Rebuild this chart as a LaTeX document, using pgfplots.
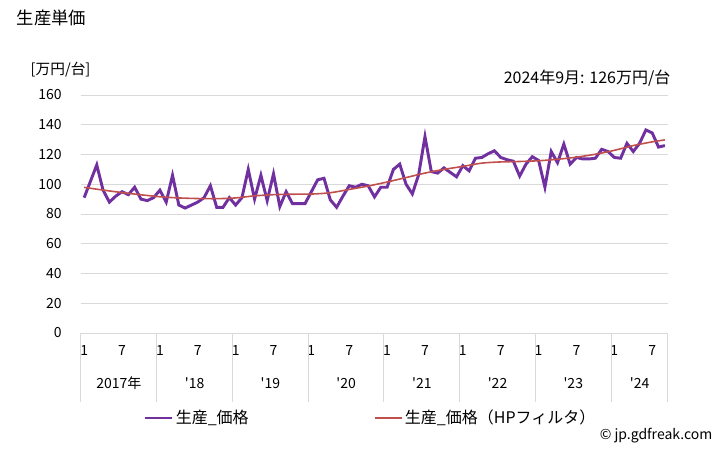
\documentclass[border=0pt]{standalone}
\usepackage{fontspec}
\setmainfont{Noto Sans CJK JP}[Ligatures=TeXOff]
\usepackage{pgfplots}
\pgfplotsset{compat=1.18}

\definecolor{prodpurple}{HTML}{7030A0}
\definecolor{hpred}{HTML}{C0504D}
\definecolor{gridgray}{HTML}{D9D9D9}

\begin{document}
\begin{tikzpicture}[x=0.75pt,y=0.75pt]
% page frame 728 x 450 px (1px = 0.75pt), y measured from the bottom
\path (0,0) rectangle (728,450);

\node[anchor=west, font=\fontsize{13}{15}\selectfont] at (12,432) {生産単価};
\node[anchor=west, font=\fontsize{11}{13}\selectfont] at (26,380) {[万円/台]};
\node[anchor=east, font=\fontsize{12}{14}\selectfont] at (675,372) {2024年9月: 126万円/台};
\node[anchor=east, font=\fontsize{10.5}{12}\selectfont] at (717,14) {© jp.gdfreak.com};

\begin{axis}[
    at={(60.75pt,87.75pt)}, anchor=south west,
    scale only axis, width=440.25pt, height=178.5pt,
    xmin=-0.5, xmax=92.5, ymin=0, ymax=160,
    axis line style={draw=none},
    major tick length=0pt,
    xtick pos=bottom, ytick pos=left,
    ytick={0,20,...,160},
    ymajorgrids, grid style={gridgray, line width=0.75pt},
    xtick={0,6,...,90},
    xticklabels={1,7,1,7,1,7,1,7,1,7,1,7,1,7,1,7},
    extra x ticks={-0.5,11.5,23.5,35.5,47.5,59.5,71.5,83.5,92.5},
    extra x tick labels={},
    extra x tick style={grid=none, tick align=outside,
                        major tick length=51.75pt,
                        tick style={gridgray, line width=0.75pt}},
    tick label style={font=\fontsize{10.5}{12}\selectfont},
    yticklabel style={xshift=-11pt},
    xticklabel style={yshift=-6pt},
    /pgf/number format/assume math mode=true,
    clip=false,
    legend image code/.code={\draw[#1] (0pt,0pt) -- (20pt,0pt);},
    legend style={at={(0.106,-0.357)}, anchor=west, draw=none, fill=none,
                  inner xsep=0pt, font=\fontsize{12}{14}\selectfont,
                  legend columns=2,
                  /tikz/every even column/.append style={column sep=92pt}},
    legend cell align=left,
  ]

% 生産_価格, monthly 2017-01 .. 2024-09
\addplot[prodpurple, line width=2.2pt] coordinates {
(0,91) (1,102) (2,113) (3,96) (4,88) (5,92) (6,95) (7,93) (8,98) (9,90) (10,89) (11,91)
(12,96) (13,88) (14,106) (15,86) (16,84) (17,86) (18,88) (19,91) (20,99) (21,84.5) (22,84.5) (23,91)
(24,86) (25,91) (26,110) (27,90) (28,106) (29,89) (30,107) (31,85) (32,95) (33,87) (34,87) (35,87)
(36,95) (37,103) (38,104) (39,89.5) (40,84.5) (41,92) (42,99) (43,98) (44,100) (45,99) (46,91.5) (47,98)
(48,98) (49,110) (50,113.5) (51,100) (52,93.5) (53,106.5) (54,132) (55,108.5) (56,107.5) (57,111) (58,108) (59,105)
(60,112.5) (61,109) (62,117.5) (63,118) (64,120.5) (65,122.5) (66,118) (67,116.5) (68,115.5) (69,105.5) (70,113.5) (71,118.5)
(72,116) (73,98) (74,122) (75,114.5) (76,127) (77,113.5) (78,118) (79,117) (80,117) (81,117.5) (82,123.5) (83,122)
(84,118) (85,117.5) (86,127.5) (87,122) (88,127.5) (89,136.5) (90,134.5) (91,125) (92,126)
};
\addlegendentry{生産\_価格}

% HP filter trend
\addplot[hpred, line width=1.2pt, smooth] coordinates {
(0,97.9) (4,95.5) (8,93.4) (12,91.6) (15,90.8) (18,90.4) (21,90.3) (24,90.8)
(27,92.2) (30,93) (33,93.3) (36,93.4) (39,94.3) (42,96.5) (45,98.8) (48,101.5)
(51,104.5) (54,107.5) (57,110) (60,112) (63,114.2) (66,115) (69,115.3) (72,115.8)
(75,116.8) (78,118.2) (81,120.2) (84,122.8) (87,126) (90,128.5) (92,129.8)
};
\addlegendentry{生産\_価格（HPフィルタ）}

% year labels under the month ticks
\begin{scope}[every node/.style={font=\fontsize{10.5}{12}\selectfont, yshift=-37.5pt}]
\node at (axis cs:5.5,0)  {2017年};
\node at (axis cs:17.5,0) {'18};
\node at (axis cs:29.5,0) {'19};
\node at (axis cs:41.5,0) {'20};
\node at (axis cs:53.5,0) {'21};
\node at (axis cs:65.5,0) {'22};
\node at (axis cs:77.5,0) {'23};
\node at (axis cs:88,0)   {'24};
\end{scope}
\end{axis}
\end{tikzpicture}
\end{document}
